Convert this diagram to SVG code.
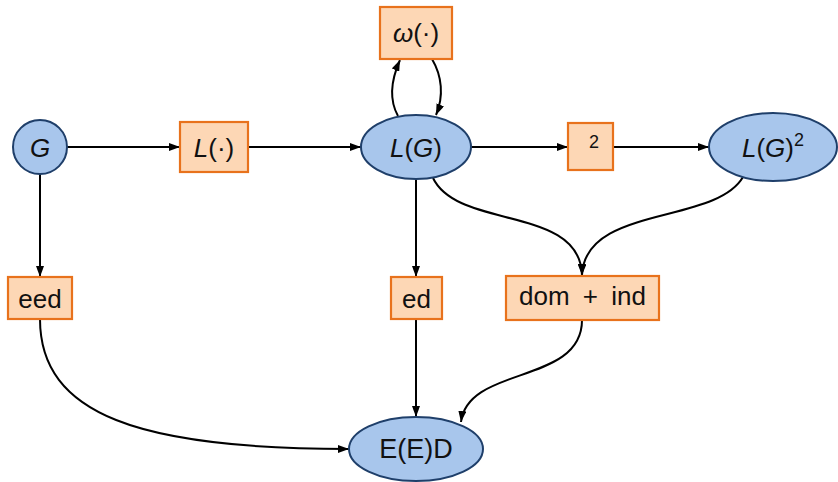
<svg xmlns="http://www.w3.org/2000/svg" width="838" height="482" viewBox="0 0 838 482">
<defs>
<marker id="ah" viewBox="0 0 11 8" refX="11" refY="4" markerWidth="11" markerHeight="8" markerUnits="userSpaceOnUse" orient="auto">
<path d="M0,0 L11,4 L0,8 z" fill="#000"/>
</marker>
<style>
.b{fill:#A8C6EC;stroke:#1F3F6A;stroke-width:2}
.o{fill:#FDD7B5;stroke:#E8721C;stroke-width:2.2}
.t{font-family:"Liberation Sans",Arial,sans-serif;font-size:26px;fill:#111;text-anchor:middle}
.i{font-style:italic}
.c{fill:none;stroke:#000;stroke-width:2;marker-end:url(#ah)}
</style>
</defs>
<rect width="838" height="482" fill="#fff"/>
<g id="connectors">
<path class="c" d="M67,147 L180,147"/>
<path class="c" d="M248,147 L361,147"/>
<path class="c" d="M471,147 L568,147"/>
<path class="c" d="M613,147 L709,147"/>
<path class="c" d="M40,174 L40,277"/>
<path class="c" d="M416,179 L416,277"/>
<path class="c" d="M416,319 L416,417"/>
<path class="c" d="M398,116 C388,98 392,78 400,60"/>
<path class="c" d="M432,59 C442,76 444,96 436,115"/>
<path class="c" d="M433,178 C458,230 580,205 582,275"/>
<path class="c" d="M743,177 C715,225 585,205 582,275"/>
<path class="c" d="M582,320 C582,385 468,365 461,422"/>
<path class="c" d="M40,319 C40,415 140,449 349,449"/>
</g>
<g id="G"><circle class="b" cx="40" cy="147" r="27"/><text class="t i" x="40" y="157">G</text></g>
<g id="Lop"><rect class="o" x="180" y="122" width="68" height="50"/><text class="t" x="214" y="157"><tspan class="i">L</tspan>(·)</text></g>
<g id="LG"><ellipse class="b" cx="416" cy="147" rx="55" ry="32"/><text class="t" x="416" y="157"><tspan class="i">L</tspan>(<tspan class="i">G</tspan>)</text></g>
<g id="omega"><rect class="o" x="380" y="7" width="72" height="52"/><text class="t" x="416" y="42"><tspan class="i">ω</tspan>(·)</text></g>
<g id="sq"><rect class="o" x="568" y="123" width="45" height="47"/><text class="t" x="594" y="148" style="font-size:18px">2</text></g>
<g id="LG2"><ellipse class="b" cx="773" cy="147" rx="64" ry="34"/><text class="t" x="773" y="157"><tspan class="i">L</tspan>(<tspan class="i">G</tspan>)<tspan dy="-11" style="font-size:18px">2</tspan></text></g>
<g id="eed"><rect class="o" x="8" y="277" width="64" height="42"/><text class="t" x="40" y="308">eed</text></g>
<g id="ed"><rect class="o" x="391" y="277" width="51" height="42"/><text class="t" x="416.5" y="308">ed</text></g>
<g id="domind"><rect class="o" x="506" y="276" width="153" height="44"/><text class="t" x="582.5" y="305" style="word-spacing:6px">dom + ind</text></g>
<g id="EED"><ellipse class="b" cx="416" cy="449" rx="67" ry="32"/><text class="t" x="416" y="458" style="font-size:27px">E(E)D</text></g>
</svg>
